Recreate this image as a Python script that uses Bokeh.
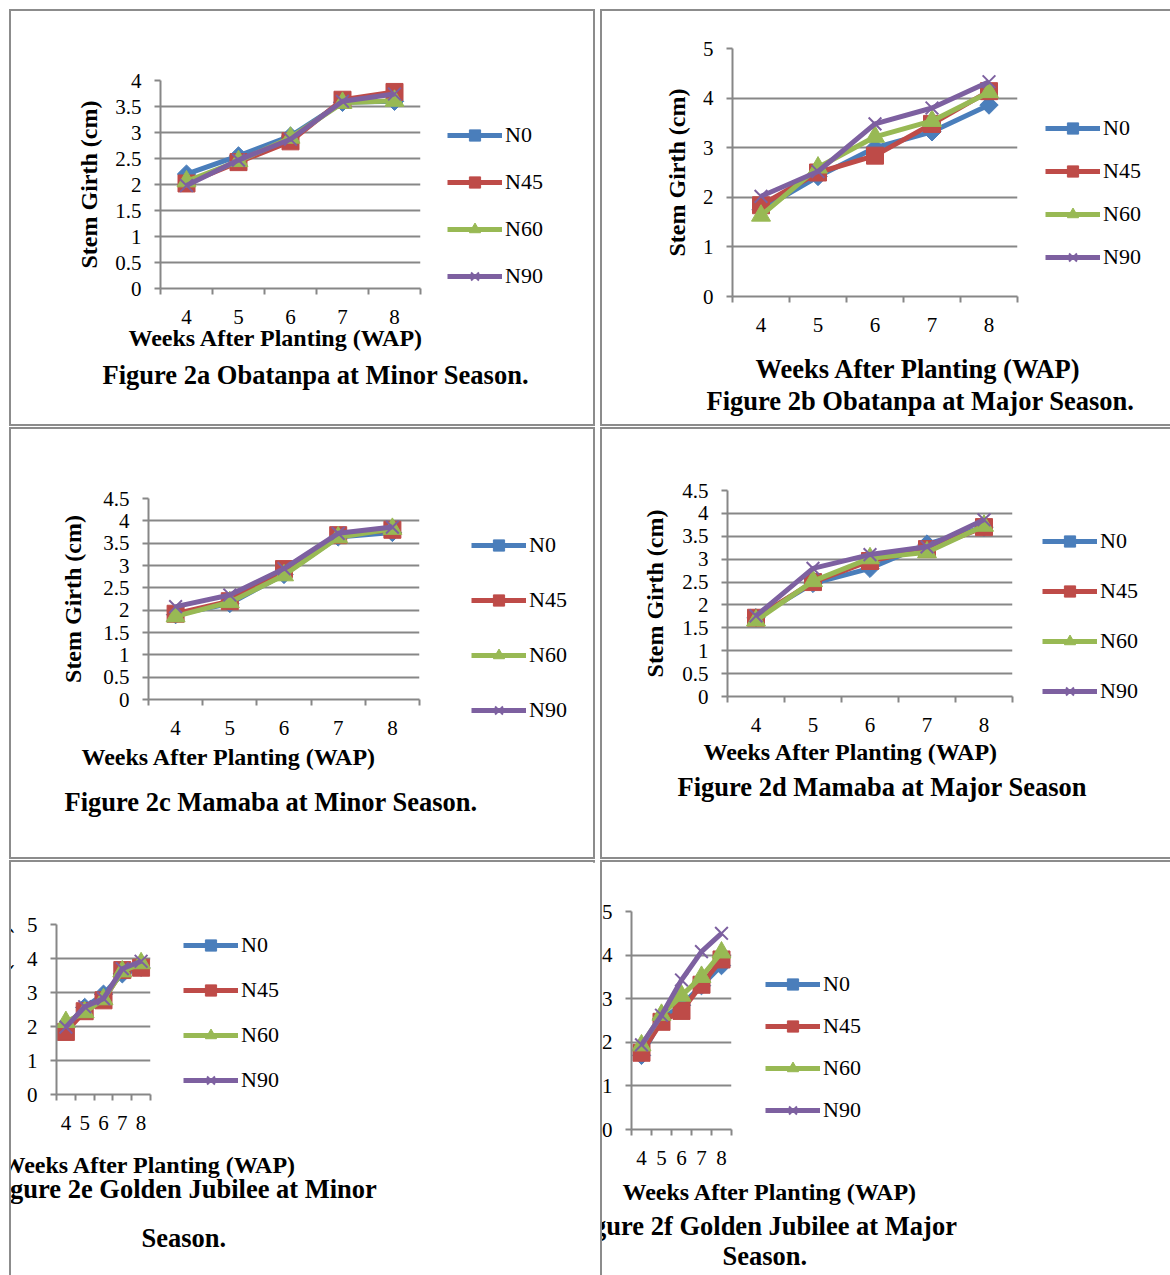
from bokeh.plotting import figure
from bokeh.layouts import row, column
from bokeh.models import FixedTicker, Legend, LegendItem, Title, Range1d
from bokeh.embed import file_html
from bokeh.resources import INLINE

# ---------------- data ----------------
weeks = [4, 5, 6, 7, 8]
series_names = ["N0", "N45", "N60", "N90"]

# Figure 2a Obatanpa, minor season
a_N0 = [2.20, 2.55, 2.93, 3.58, 3.60]
a_N45 = [2.02, 2.43, 2.83, 3.63, 3.78]
a_N60 = [2.06, 2.45, 2.90, 3.57, 3.61]
a_N90 = [1.98, 2.47, 2.87, 3.60, 3.74]
# Figure 2b Obatanpa, major season
b_N0 = [1.75, 2.42, 3.00, 3.32, 3.86]
b_N45 = [1.84, 2.50, 2.84, 3.48, 4.14]
b_N60 = [1.63, 2.60, 3.22, 3.54, 4.12]
b_N90 = [2.02, 2.52, 3.48, 3.80, 4.33]
# Figure 2c Mamaba, minor season
c_N0 = [1.90, 2.15, 2.80, 3.64, 3.74]
c_N45 = [1.92, 2.20, 2.92, 3.68, 3.80]
c_N60 = [1.86, 2.18, 2.78, 3.63, 3.82]
c_N90 = [2.08, 2.34, 2.93, 3.72, 3.86]
# Figure 2d Mamaba, major season
d_N0 = [1.72, 2.47, 2.80, 3.33, 3.70]
d_N45 = [1.72, 2.50, 2.96, 3.22, 3.70]
d_N60 = [1.66, 2.52, 3.02, 3.15, 3.73]
d_N90 = [1.76, 2.80, 3.10, 3.27, 3.86]
# Figure 2e Golden Jubilee, minor season
e_N0 = [2.00, 2.56, 2.95, 3.55, 3.74]
e_N45 = [1.84, 2.45, 2.77, 3.66, 3.73]
e_N60 = [2.13, 2.42, 2.80, 3.62, 3.86]
e_N90 = [1.98, 2.58, 2.82, 3.70, 3.92]
# Figure 2f Golden Jubilee, major season
f_N0 = [1.70, 2.53, 2.85, 3.30, 3.76]
f_N45 = [1.76, 2.47, 2.72, 3.32, 3.90]
f_N60 = [1.93, 2.63, 3.07, 3.50, 4.06]
f_N90 = [1.94, 2.62, 3.43, 4.08, 4.50]

yticks_a = [0, 0.5, 1, 1.5, 2, 2.5, 3, 3.5, 4]
yticks_cd = [0, 0.5, 1, 1.5, 2, 2.5, 3, 3.5, 4, 4.5]
yticks_bef = [0, 1, 2, 3, 4, 5]

y_title = "Stem Girth (cm)"
x_title = "Weeks After Planting (WAP)"
captions = {
    "a": ["Figure 2a Obatanpa at Minor Season."],
    "b": ["Figure 2b Obatanpa at Major Season."],
    "c": ["Figure 2c Mamaba at Minor Season."],
    "d": ["Figure 2d Mamaba at Major Season"],
    "e": ["Figure 2e Golden Jubilee at Minor", "Season."],
    "f": ["Figure 2f Golden Jubilee at Major", "Season."],
}

# ---------------- style / layout ----------------
FONT = "Liberation Serif"
GRID = "#878787"
BORDER = "#8c8c8c"
COLORS = ["#4A7EBB", "#BE4B48", "#98B954", "#7D60A0"]
LINE_H = 1.107  # text box height per font px (approx.)

# cells: (x, total width, left border, right border)
COLS = [(9, 586, 2, 2), (600, 570, 2, 0)]
# rows: (y, total height, top border, bottom border)
ROWS = [(9, 417, 2, 2), (427, 432, 2, 2), (860, 415, 2, 0)]


def fmt(t):
    return str(int(t)) if float(t).is_integer() else str(t)


def make_panel(key, series, yticks, col, rw, frame, ylab_standoff,
               xtitle, caps, legend_pos):
    cx0, tw, bl, br = col
    cy0, th, bt, bb = rw
    ox, oy = cx0 + bl, cy0 + bt
    W, H = tw - bl - br, th - bt - bb
    fl, fr, ft, fb = frame
    p = figure(width=tw, height=th, output_backend="svg", toolbar_location=None,
               x_range=Range1d(weeks[0] - 0.5, weeks[-1] + 0.5),
               y_range=Range1d(yticks[0], yticks[-1]),
               min_border_left=fl - ox, min_border_right=W - (fr - ox),
               min_border_top=ft - oy, min_border_bottom=H - (fb - oy))
    p.frame_align = False
    p.outline_line_color = None
    p.background_fill_color = "white"
    p.border_fill_color = "white"
    p.styles = {
        "border-style": "solid",
        "border-color": BORDER,
        "border-width": "%dpx %dpx %dpx %dpx" % (bt, br, bb, bl),
        "box-sizing": "border-box",
    }

    xa = p.xaxis[0]
    xa.ticker = FixedTicker(ticks=weeks,
                            minor_ticks=[w - 0.5 for w in weeks] + [weeks[-1] + 0.5])
    xa.major_tick_out = 0
    xa.major_tick_in = 0
    xa.minor_tick_out = 6
    xa.minor_tick_in = 0
    xa.minor_tick_line_color = GRID
    xa.minor_tick_line_width = 2
    xa.axis_line_color = GRID
    xa.axis_line_width = 2
    xa.major_label_text_font = FONT
    xa.major_label_text_font_size = "21px"
    xa.major_label_text_color = "black"
    xa.major_label_standoff = 15

    ya = p.yaxis[0]
    ya.ticker = FixedTicker(ticks=yticks)
    ya.major_label_overrides = {t: fmt(t) for t in yticks}
    ya.major_tick_out = 6
    ya.major_tick_in = 0
    ya.major_tick_line_color = GRID
    ya.major_tick_line_width = 2
    ya.minor_tick_out = 0
    ya.axis_line_color = GRID
    ya.axis_line_width = 2
    ya.major_label_text_font = FONT
    ya.major_label_text_font_size = "21px"
    ya.major_label_text_color = "black"
    ya.major_label_standoff = 13
    ya.axis_label = y_title
    ya.axis_label_text_font = FONT
    ya.axis_label_text_font_style = "bold"
    ya.axis_label_text_font_size = "24px"
    ya.axis_label_text_color = "black"
    ya.axis_label_standoff = ylab_standoff

    p.xgrid.visible = False
    p.ygrid.ticker = FixedTicker(ticks=yticks)
    p.ygrid.grid_line_color = GRID
    p.ygrid.grid_line_width = 2

    items = []
    for name, vals, color in zip(series_names, series, COLORS):
        ln = p.line(weeks, vals, line_color=color, line_width=5)
        if name == "N0":
            mk = p.scatter(weeks, vals, marker="square", angle=0.785398, size=13,
                           fill_color=color, line_color=color)
        elif name == "N45":
            mk = p.scatter(weeks, vals, marker="square", size=17,
                           fill_color=color, line_color=color)
        elif name == "N60":
            mk = p.scatter(weeks, vals, marker="triangle", size=19,
                           fill_color=color, line_color=color)
        else:
            mk = p.scatter(weeks, vals, marker="x", size=18,
                           line_color=color, line_width=2)
        items.append(LegendItem(label=name, renderers=[ln, mk]))

    # legend in the right side panel (panel starts at the frame's right edge)
    lx, ly0, pitch = legend_pos
    gh = 28
    leg_bottom = ly0 + 3 * pitch + gh / 2
    leg = Legend(items=items, location=(lx - fr, fb - leg_bottom),
                 orientation="vertical", glyph_width=55, glyph_height=gh,
                 label_height=gh, label_standoff=3, spacing=int(round(pitch - gh)),
                 label_text_font=FONT, label_text_font_size="22px",
                 label_text_color="black",
                 border_line_color=None, background_fill_alpha=0,
                 margin=0, padding=0)
    p.add_layout(leg, "right")

    # texts below the axis, stacked as titles: (text, left x, centre y, size)
    texts = [(x_title,) + xtitle] + caps
    top = fb + 6 + 15 + LINE_H * 21
    for text, left_x, cy, size in texts:
        h = LINE_H * size
        s = 2 * (cy - top - h / 2)
        p.add_layout(Title(text=text, align="left", offset=left_x - fl,
                           vertical_align="top", standoff=s,
                           text_font=FONT, text_font_style="bold",
                           text_font_size="%gpx" % size, text_color="black"), "below")
        top = top + 2 + h + s
    return p


pa = make_panel("a", [a_N0, a_N45, a_N60, a_N90], yticks_a, COLS[0], ROWS[0],
                (160, 416, 80, 284), 10, (128, 340, 24),
                [(captions["a"][0], 102, 377, 26.5)], (443, 130, 47.3))
pb = make_panel("b", [b_N0, b_N45, b_N60, b_N90], yticks_bef, COLS[1], ROWS[0],
                (732, 1015, 48, 292), 10, (755, 370, 26.5),
                [(captions["b"][0], 706, 402, 26.5)], (1043, 125, 42.7))
pc = make_panel("c", [c_N0, c_N45, c_N60, c_N90], yticks_cd, COLS[0], ROWS[1],
                (148, 415, 498, 695), 14, (81, 759, 24),
                [(captions["c"][0], 64, 804, 26.5)], (467, 542, 54.7))
pd_ = make_panel("d", [d_N0, d_N45, d_N60, d_N90], yticks_cd, COLS[1], ROWS[1],
                 (727, 1010, 490, 692), 11, (703, 754, 24),
                 [(captions["d"][0], 677, 789, 26.5)], (1040, 537, 50))
pe = make_panel("e", [e_N0, e_N45, e_N60, e_N90], yticks_bef, COLS[0], ROWS[2],
                (150, 410, 924, 1132), 10, (95, 1209, 24),
                [(captions["e"][0], 80, 1233, 26.5), (captions["e"][1], 235, 1262, 26.5)],
                (443, 984, 44.7))
pf = make_panel("f", [f_N0, f_N45, f_N60, f_N90], yticks_bef, COLS[1], ROWS[2],
                (731, 1008, 911, 1130), 9, (722, 1199, 24),
                [(captions["f"][0], 669, 1233, 26.5), (captions["f"][1], 822, 1262, 26.5)],
                (1042, 985, 42))

layout = column(row(pa, pb, spacing=5), row(pc, pd_, spacing=5), row(pe, pf, spacing=5),
                spacing=1, margin=(9, 0, 0, 9))

with open("out.html", "w") as fh:
    fh.write(file_html(layout, INLINE))
